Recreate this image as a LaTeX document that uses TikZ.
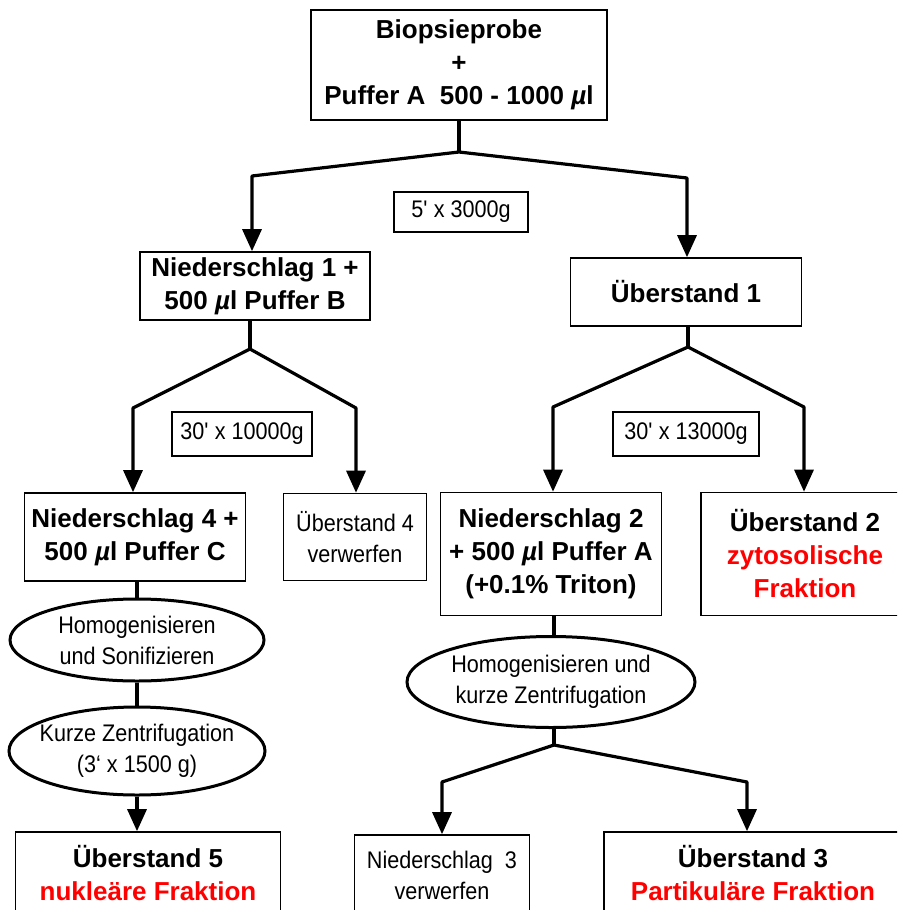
\documentclass[tikz,border=0pt]{standalone}
\usepackage{fontspec}
\setmainfont{Liberation Sans}
\newfontfamily\narrowsf{Liberation Sans}[FakeStretch=0.9]
\usetikzlibrary{shapes.geometric,arrows.meta}

\begin{document}
\begin{tikzpicture}[x=1pt,y=-1pt,
  box/.style={draw,line width=1.6pt,inner sep=0pt,align=center,font=\fontsize{26}{33}\selectfont\bfseries},
  thinbox/.style={draw,line width=1.6pt,inner sep=0pt,align=center,font=\narrowsf\fontsize{24}{31}\selectfont},
  ell/.style={ellipse,draw,line width=3pt,inner xsep=-25pt,inner ysep=-12pt,align=center,font=\narrowsf\fontsize{24}{31}\selectfont},
  ln/.style={line width=3.2pt,line join=round},
  arr/.style={ln,-{Triangle[length=22pt,width=19pt]}}]
\clip (0,0) rectangle (897,910);

% boxes
\node[box,minimum width=296pt,minimum height=110pt] (probe) at (459,65) {Biopsieprobe\\+\\Puffer A~~500 - 1000 \textit{µ}l};
\node[thinbox,minimum width=134pt,minimum height=40pt] (g1) at (461,212) {5\textquotesingle{} x 3000g};
\node[box,minimum width=230pt,minimum height=68pt] (nied1) at (255,286) {Niederschlag 1 +\\500 \textit{µ}l Puffer B};
\node[box,minimum width=231pt,minimum height=68pt] (ueb1) at (686,292) {Überstand 1};
\node[thinbox,minimum width=140pt,minimum height=44pt] (g2) at (242,434) {30\textquotesingle{} x 10000g};
\node[thinbox,minimum width=146pt,minimum height=44pt] (g3) at (686,434) {30\textquotesingle{} x 13000g};
\node[box,minimum width=221pt,minimum height=88pt] (nied4) at (135,537) {Niederschlag 4 +\\500 \textit{µ}l Puffer C};
\node[thinbox,minimum width=143pt,minimum height=87pt] (ueb4) at (355,537) {Überstand 4\\verwerfen};
\node[box,minimum width=221pt,minimum height=123pt] (nied2) at (551,554) {Niederschlag 2\\+ 500 \textit{µ}l Puffer A\\(+0.1\% Triton)};
\node[box,minimum width=208pt,minimum height=123pt] (ueb2) at (805,554) {Überstand 2\\\textcolor{red}{zytosolische}\\\textcolor{red}{Fraktion}};
\node[ell,minimum width=254pt,minimum height=82pt] (homo1) at (137,640) {Homogenisieren\\und Sonifizieren};
\node[ell,minimum width=256pt,minimum height=88pt] (zentr) at (137,751) {Kurze Zentrifugation\\(3‘ x 1500 g)};
\node[ell,minimum width=288pt,minimum height=91pt] (homo2) at (551,682) {Homogenisieren und\\kurze Zentrifugation};
\node[box,minimum width=265pt,minimum height=82pt] (ueb5) at (148,873) {Überstand 5\\\textcolor{red}{nukleäre Fraktion}};
\node[thinbox,minimum width=175pt,minimum height=80pt] (nied3) at (442,875) {Niederschlag~~3\\verwerfen};
\node[box,minimum width=298pt,minimum height=82pt] (ueb3) at (753,873) {Überstand 3\\\textcolor{red}{Partikuläre Fraktion}};

% branch points
\coordinate (s1) at (459,152);
\coordinate (s1l) at (252,176);
\coordinate (s1r) at (687,178);
\coordinate (s2) at (250,349);
\coordinate (s2l) at (133,408);
\coordinate (s2r) at (356,408);
\coordinate (s3) at (688,347);
\coordinate (s3l) at (553,407);
\coordinate (s3r) at (804,407);
\coordinate (s4) at (554,745);
\coordinate (s4l) at (442,782);
\coordinate (s4r) at (747,782);

% connectors
\draw[ln] (probe) -- (s1);
\draw[arr] (s1) -- (s1l) -- (s1l |- nied1.north);
\draw[arr] (s1) -- (s1r) -- (s1r |- ueb1.north);
\draw[ln] (s2 |- nied1.south) -- (s2);
\draw[arr] (s2) -- (s2l) -- (s2l |- nied4.north);
\draw[arr] (s2) -- (s2r) -- (s2r |- ueb4.north);
\draw[ln] (s3 |- ueb1.south) -- (s3);
\draw[arr] (s3) -- (s3l) -- (s3l |- nied2.north);
\draw[arr] (s3) -- (s3r) -- (s3r |- ueb2.north);
\draw[ln] (homo1.north |- nied4.south) -- (homo1.north);
\draw[ln] (homo1) -- (zentr);
\draw[arr] (zentr.south) -- (zentr.south |- ueb5.north);
\draw[ln] (s4 |- nied2.south) -- (s4 |- homo2.north);
\draw[ln] (s4 |- homo2.south) -- (s4);
\draw[arr] (s4) -- (s4l) -- (s4l |- nied3.north);
\draw[arr] (s4) -- (s4r) -- (s4r |- ueb3.north);
\end{tikzpicture}
\end{document}
